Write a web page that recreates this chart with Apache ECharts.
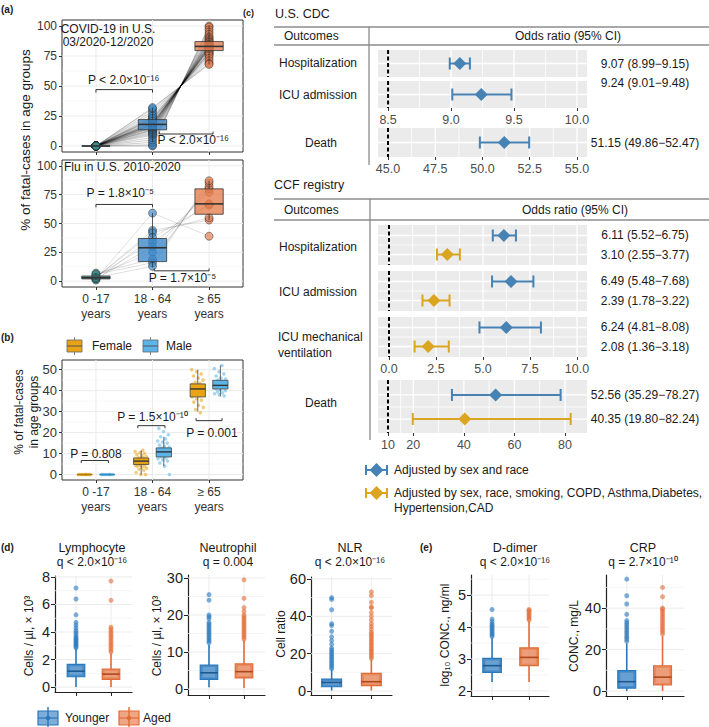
<!DOCTYPE html>
<html>
<head>
<meta charset="utf-8">
<script src="https://cdn.jsdelivr.net/npm/echarts@6/dist/echarts.min.js"></script>
<style>
  html, body { margin: 0; padding: 0; background: #fff; }
  #chart { width: 709px; height: 727px; }
</style>
</head>
<body>
<div id="chart"></div>
<script>
// ---------- data ----------
const ageGroups = ['0 -17\nyears', '18 - 64\nyears', '≥ 65\nyears'];
const pctTicks = [0, 25, 50, 75, 100];

// (a) COVID-19 in U.S. 03/2020-12/2020, share of fatal cases per state
const covidKids = [0, 0, 0, 0.1, 0, 0, 0.2, 0, 0, 0.1, 0, 0, 0, 0.1, 0, 0, 0, 0.2, 0, 0, 0, 0.1, 0, 0, 0, 0, 0.1, 0, 0, 0, 0.2, 0, 0, 0];
const covidAdult = [0, 1, 3, 5, 7, 9, 10, 11, 12, 13, 13.5, 14, 15, 15.5, 16, 16.5, 17, 17.5, 18, 18, 18.5, 19, 19.5, 20, 21, 22, 22.5, 23, 24, 25, 27, 29, 31, 32];
const covidSenior = [100, 99, 97, 95, 93, 91, 90, 89, 88, 87, 86.5, 86, 85, 84.5, 84, 83.5, 83, 82.5, 82, 82, 81.5, 81, 80.5, 80, 79, 78, 77.5, 77, 76, 75, 73, 71, 69, 68];
// box stats: lower whisker, Q1, median, Q3, upper whisker
const covidBox = [[0, 0, 0, 0, 0], [3, 13.5, 18, 22, 32], [68, 79.5, 83, 87, 100]];
const covidP = ['P < 2.0×10⁻¹⁶', 'P < 2.0×10⁻¹⁶'];

// (a) Flu in U.S. 2010-2020, one value per season
const fluKids = [2, 3, 3, 1, 4, 2, 5, 7, 6, 3];
const fluAdult = [59, 44, 42, 38, 34, 30, 25, 19, 16, 13];
const fluSenior = [39, 53, 55, 66, 67, 77, 80, 82, 85, 87];
const fluBox = [[1, 2, 3, 4.5, 7], [12, 17, 29, 37, 59], [53, 58, 67, 80, 87]];
const fluP = ['P = 1.8×10⁻⁵', 'P = 1.7×10⁻⁵'];

// (b) by sex
const sexGroups = ['Female', 'Male'];
const sexTicks = [0, 10, 20, 30, 40, 50];
const femaleBox = [[0, 0, 0, 0, 0], [0, 4.8, 6.4, 7.9, 11.5], [30, 37, 40.8, 43.2, 50]];
const maleBox = [[0, 0, 0, 0, 0], [4, 8.4, 10.8, 12.7, 18], [37.3, 40.8, 42.5, 44.9, 52]];
const femaleKidPts = [0, 0, 0, 0, 0, 0, 0, 0, 0, 0];
const maleKidPts = [0, 0, 0, 0, 0, 0, 0, 0, 0, 0];
const femaleAdultPts = [0, 0, 1, 2, 2.5, 3, 3.5, 4, 4, 4.5, 4.5, 5, 5, 5.5, 5.5, 6, 6, 6, 6.5, 6.5, 7, 7, 7.5, 7.5, 8, 8, 8.5, 9, 9.5, 10, 10.5, 11, 11.5];
const maleAdultPts = [0, 4, 5.5, 6.5, 7, 7.5, 8, 8.5, 9, 9, 9.5, 10, 10, 10.5, 10.5, 11, 11, 11.5, 12, 12, 12.5, 13, 13.5, 14, 15, 15.5, 16, 17, 18, 19, 20.5, 22];
const femaleSeniorPts = [29.5, 31, 32, 33, 34.5, 35.5, 36, 37, 37.5, 38, 38.5, 39, 39.5, 40, 40.5, 41, 41, 41.5, 42, 42.5, 43, 43.5, 44, 45, 46, 47, 48, 49, 50];
const maleSeniorPts = [37.5, 38, 38.5, 39, 39.5, 40, 40.5, 41, 41.5, 42, 42, 42.5, 43, 43, 43.5, 44, 44.5, 45, 45.5, 46, 47, 48, 49, 50.5, 52];
const sexP = ['P = 0.808', 'P = 1.5×10⁻¹⁰', 'P = 0.001'];

// (c) odds ratios
const cdcOutcomes = ['Hospitalization', 'ICU admission', 'Death'];
const cdcOR = [9.07, 9.24, 51.15];
const cdcLow = [8.99, 9.01, 49.86];
const cdcHigh = [9.15, 9.48, 52.47];
const cdcTicks = [8.5, 9.0, 9.5, 10.0];
const cdcDeathTicks = [45, 47.5, 50, 52.5, 55];
const ccfOutcomes = ['Hospitalization', 'ICU admission', 'ICU mechanical\nventilation', 'Death'];
const ccfModels = ['Adjusted by sex and race', 'Adjusted by sex, race, smoking, COPD, Asthma,Diabetes,\nHypertension,CAD'];
const sexRaceOR = [6.11, 6.49, 6.24, 52.56];
const sexRaceLow = [5.52, 5.48, 4.81, 35.29];
const sexRaceHigh = [6.75, 7.68, 8.08, 78.27];
const fullOR = [3.10, 2.39, 2.08, 40.35];
const fullLow = [2.55, 1.78, 1.36, 19.80];
const fullHigh = [3.77, 3.22, 3.18, 82.24];
const ccfTicks = [0, 2.5, 5, 7.5, 10];
const ccfDeathTicks = [10, 20, 40, 60, 80];
const cdcRef = [8.5, 45];
const ccfRef = [0, 10];

// (d) and (e) lab values, younger vs aged
const cohorts = ['Younger', 'Aged'];
const lymphTicks = [0, 2, 4, 6, 8];
const lymphBox = [[0, 0.75, 1.15, 1.65, 2.8], [0, 0.56, 0.94, 1.31, 2.45]];
const lymphOutYoung = [2.85, 2.95, 3.05, 3.15, 3.25, 3.35, 3.45, 3.55, 3.65, 3.8, 3.95, 4.1, 4.3, 4.5, 4.7, 5.25, 6.4, 7.2];
const lymphOutAged = [2.55, 2.7, 2.85, 3.0, 3.15, 3.3, 3.45, 3.6, 3.75, 3.9, 4.05, 4.2, 4.35, 6.3, 7.7];
const neutroTicks = [0, 10, 20, 30];
const neutroBox = [[0.5, 2.6, 4.4, 6.5, 12], [0.3, 3.0, 4.7, 6.8, 13.2]];
const neutroOutYoung = [12.5, 13, 13.5, 14, 14.5, 15, 15.5, 16, 16.5, 17, 17.5, 18, 19, 19.5, 20, 24, 25.5];
const neutroOutAged = [13.5, 14, 14.5, 15, 15.5, 16, 16.5, 17, 17.5, 18, 18.5, 19, 19.5, 20, 21, 22, 24.5, 29.5];
const nlrTicks = [0, 20, 40, 60];
const nlrBox = [[0.3, 2.3, 4.6, 6.4, 11.5], [0.3, 2.9, 5, 9.5, 17]];
const nlrOutYoung = [12, 13, 14, 15, 16, 17, 18, 19, 20, 21, 22, 23, 25, 27, 29, 32, 35, 36, 43.5, 49, 50];
const nlrOutAged = [17.5, 18.5, 19.5, 20.5, 21.5, 22.5, 23.5, 24.5, 25.5, 26.5, 27.5, 28.5, 29.5, 30.5, 31.5, 33, 34.5, 36, 38, 40, 42, 44.5, 45, 47.5, 51, 53];
const ddimerTicks = [2, 3, 4, 5];
const ddimerBox = [[2.28, 2.58, 2.79, 3.02, 3.66], [2.28, 2.79, 3.05, 3.35, 4.18]];
const ddimerOutYoung = [3.7, 3.75, 3.8, 3.85, 3.9, 3.95, 4.0, 4.05, 4.1, 4.17, 4.25, 4.55];
const ddimerOutAged = [4.22, 4.27, 4.32, 4.37, 4.42, 4.47, 4.52, 4.55];
const crpTicks = [0, 20, 40];
const crpBox = [[0, 1.4, 4.5, 9.8, 23], [0, 2.9, 6.7, 12.2, 26.5]];
const crpOutYoung = [24, 25, 26, 27, 28, 29, 30, 31, 32, 33, 34, 37, 42, 46, 54];
const crpOutAged = [27.5, 28.5, 29.5, 30.5, 31.5, 32.5, 33.5, 34.5, 35.5, 36.5, 37.5, 38.5, 39.5, 40, 45.5, 50];

// ---------- look ----------
const FONT = '"Liberation Sans", Arial, sans-serif';
const INK = '#1a1a1a';
const AGE_COL = ['61,140,140', '58,135,200', '229,124,76'];
const FEMALE = '#E8A317', MALE = '#5BB5E8';
const BLUE = '#4682B4', GOLD = '#DAA520';
const YOUNG = '40,120,190', AGED = '226,108,54';

const grid = [], xAxis = [], yAxis = [], series = [], graphic = [], ranges = [];

function addGrid(box, xr, yr, xa, ya, look) {
  const i = grid.length;
  const off = {axisLine: {show: false, onZero: false}, axisTick: {show: false}, axisLabel: {show: false}, splitLine: {show: false}};
  grid.push(Object.assign({left: box[0], top: box[1], width: box[2], height: box[3], show: false}, look || {}));
  xAxis.push(Object.assign({gridIndex: i, type: 'value', min: xr[0], max: xr[1]}, off, xa || {}));
  yAxis.push(Object.assign({gridIndex: i, type: 'value', min: yr[0], max: yr[1]}, off, ya || {}));
  ranges.push({x: xr, y: yr});
  return i;
}
function ticks(vals, color, len) {
  return {show: true, customValues: vals, length: len || 3, lineStyle: {color: color || '#333', width: 1}};
}
function labels(vals, fmt, size, color, margin) {
  return {show: true, customValues: vals, formatter: fmt, fontSize: size, color: color, margin: margin,
    fontFamily: FONT, lineHeight: size + 3};
}
function mids(t, lo, hi) {
  const out = [];
  for (let k = 0; k < t.length - 1; k++) out.push((t[k] + t[k + 1]) / 2);
  const a = t[0] - (t[1] - t[0]) / 2, b = t[t.length - 1] + (t[t.length - 1] - t[t.length - 2]) / 2;
  if (a >= lo) out.unshift(a);
  if (b <= hi) out.push(b);
  return out;
}
function gridLines(gi, xs, ys, color, width) {
  const r = ranges[gi];
  const xm = (r.x[0] + r.x[1]) / 2, ym = (r.y[0] + r.y[1]) / 2;
  const data = xs.map(v => [v, ym, 0]).concat(ys.map(v => [xm, v, 1]));
  series.push({type: 'custom', xAxisIndex: gi, yAxisIndex: gi, silent: true, z: 1, data: data,
    renderItem: function (params, api) {
      const cs = params.coordSys;
      const p = api.coord([api.value(0), api.value(1)]);
      const s = api.value(2) === 0
        ? {x1: p[0], y1: cs.y, x2: p[0], y2: cs.y + cs.height}
        : {x1: cs.x, y1: p[1], x2: cs.x + cs.width, y2: p[1]};
      return {type: 'line', shape: s, style: {stroke: color, lineWidth: width}};
    }});
}
function boxes(gi, items, width, look) {
  series.push({type: 'custom', xAxisIndex: gi, yAxisIndex: gi, silent: true, z: 4, data: items,
    renderItem: function (params, api) {
      const i = params.dataIndex, x = api.value(0);
      const pt = k => api.coord([x, api.value(k)]);
      const lo = pt(1), q1 = pt(2), md = pt(3), q3 = pt(4), hi = pt(5);
      const w = api.size([width, 0])[0], cx = lo[0];
      const stroke = look.stroke[i];
      const kids = [
        {type: 'line', shape: {x1: cx, y1: q1[1], x2: cx, y2: lo[1]}, style: {stroke: stroke, lineWidth: look.wlw || look.lw}},
        {type: 'line', shape: {x1: cx, y1: q3[1], x2: cx, y2: hi[1]}, style: {stroke: stroke, lineWidth: look.wlw || look.lw}},
        {type: 'rect', shape: {x: cx - w / 2, y: q3[1], width: w, height: Math.max(q1[1] - q3[1], 0.01)},
          style: {fill: look.fill[i], stroke: stroke, lineWidth: look.lw}}
      ];
      if (look.inner && q1[1] - q3[1] > 5) {
        kids.push({type: 'rect', shape: {x: cx - w / 2 + 2.5, y: q3[1] + 2, width: w - 5, height: q1[1] - q3[1] - 4},
          style: {fill: look.inner}});
      }
      kids.push({type: 'line', shape: {x1: cx - w / 2, y1: md[1], x2: cx + w / 2, y2: md[1]},
        style: {stroke: look.med[i], lineWidth: look.medLw}});
      return {type: 'group', children: kids};
    }});
}
function points(gi, data, size, color, border, z) {
  series.push({type: 'scatter', xAxisIndex: gi, yAxisIndex: gi, silent: true, z: z || 3, symbolSize: size, data: data,
    itemStyle: {color: color, borderColor: border || 'transparent', borderWidth: border ? 0.6 : 0}});
}
function trajectories(gi, kids, adult, senior, stroke) {
  series.push({type: 'custom', xAxisIndex: gi, yAxisIndex: gi, silent: true, z: 2,
    data: adult.map((v, i) => [kids[i], v, senior[i]]),
    renderItem: function (params, api) {
      const pts = [1, 2, 3].map((x, k) => api.coord([x, api.value(k)]));
      return {type: 'polyline', shape: {points: pts}, style: {stroke: stroke, lineWidth: 0.8, fill: 'none'}};
    }});
}
function textStyle(text, size, color, align) {
  return {text: text, fill: color || INK, fontSize: size, fontFamily: FONT, textAlign: align || 'center', align: align || 'center',
    textVerticalAlign: 'middle', verticalAlign: 'middle'};
}
function brackets(gi, specs, texts) {
  // spec: x1, x2, y, tip, text x, text y
  series.push({type: 'custom', xAxisIndex: gi, yAxisIndex: gi, silent: true, z: 6, data: specs,
    renderItem: function (params, api) {
      const s = specs[params.dataIndex];
      const a = api.coord([s[0], s[2]]), b = api.coord([s[1], s[2]]);
      const a2 = api.coord([s[0], s[2] + s[3]]), b2 = api.coord([s[1], s[2] + s[3]]);
      const t = api.coord([s[4], s[5]]);
      return {type: 'group', children: [
        {type: 'polyline', shape: {points: [a2, a, b, b2]}, style: {stroke: '#333', lineWidth: 1, fill: 'none'}},
        {type: 'text', x: t[0], y: t[1], style: textStyle(texts[params.dataIndex], 12, INK)}
      ]};
    }});
}
function forest(gi, rows, labelDy) {
  // row: OR, low, high, y level, colour
  series.push({type: 'custom', xAxisIndex: gi, yAxisIndex: gi, silent: true, z: 5,
    data: rows.map(r => [r[0], r[3], r[1], r[2]]),
    renderItem: function (params, api) {
      const i = params.dataIndex, c = rows[i][4];
      const p = api.coord([api.value(0), api.value(1)]);
      const a = api.coord([api.value(2), api.value(1)]), b = api.coord([api.value(3), api.value(1)]);
      const h = 6, d = 6.5;
      const txt = rows[i][0].toFixed(2) + ' (' + rows[i][1].toFixed(2) + '−' + rows[i][2].toFixed(2) + ')';
      return {type: 'group', children: [
        {type: 'line', shape: {x1: a[0], y1: p[1], x2: b[0], y2: p[1]}, style: {stroke: c, lineWidth: 2}},
        {type: 'line', shape: {x1: a[0], y1: p[1] - h, x2: a[0], y2: p[1] + h}, style: {stroke: c, lineWidth: 2}},
        {type: 'line', shape: {x1: b[0], y1: p[1] - h, x2: b[0], y2: p[1] + h}, style: {stroke: c, lineWidth: 2}},
        {type: 'polygon', shape: {points: [[p[0] - d, p[1]], [p[0], p[1] - d], [p[0] + d, p[1]], [p[0], p[1] + d]]}, style: {fill: c}},
        {type: 'text', x: 645, y: p[1] + (labelDy ? labelDy[i] || 0 : 0), style: textStyle(txt, 12, INK)}
      ]};
    }});
}
function refLine(gi, x) {
  const r = ranges[gi];
  series.push({type: 'custom', xAxisIndex: gi, yAxisIndex: gi, silent: true, z: 4, data: [[x, (r.y[0] + r.y[1]) / 2]],
    renderItem: function (params, api) {
      const cs = params.coordSys, px = api.coord([api.value(0), api.value(1)])[0];
      return {type: 'line', shape: {x1: px, y1: cs.y, x2: px, y2: cs.y + cs.height},
        style: {stroke: '#000', lineWidth: 2, lineDash: [4, 2.5]}};
    }});
}
function text(x, y, t, o) {
  o = o || {};
  const st = textStyle(t, o.size || 12, o.color || INK, o.align || 'left');
  st.fontWeight = o.bold ? 'bold' : 'normal';
  st.lineHeight = o.lh || (o.size || 12) + 3;
  graphic.push({type: 'text', x: x, y: y, rotation: o.rot || 0, silent: true, z: 20, style: st});
}
function seg(x1, y1, x2, y2, color, w) {
  graphic.push({type: 'line', silent: true, z: 20, shape: {x1: x1, y1: y1, x2: x2, y2: y2}, style: {stroke: color, lineWidth: w}});
}
function rgba(c, a) { return 'rgba(' + c + ',' + a + ')'; }

// ---------- (a) ----------
const bwLook = {show: true, backgroundColor: '#fff', borderColor: '#333', borderWidth: 1};
const ageFmt = v => ageGroups[Math.round(v) - 1];
function bwY(t) {
  return {axisTick: ticks(t, '#333', 3), axisLabel: labels(t, v => String(v), 12, '#333', 5)};
}
const gCovid = addGrid([62, 20, 181, 132], [0.4, 3.6], [-5, 105], {axisTick: ticks([1, 2, 3], '#333', 3)}, bwY(pctTicks), bwLook);
const gFlu = addGrid([62, 160, 181, 127], [0.4, 3.6], [-5, 105],
  {axisTick: ticks([1, 2, 3], '#333', 3), axisLabel: labels([1, 2, 3], ageFmt, 12, '#333', 4)}, bwY(pctTicks), bwLook);

[gCovid, gFlu].forEach(g => {
  gridLines(g, [1, 2, 3], pctTicks, '#EBEBEB', 1);
  gridLines(g, [], mids(pctTicks, -5, 105), '#F2F2F2', 0.6);
});
const ageBoxLook = {
  stroke: ['#333', '#333', '#333'], med: ['#333', '#333', '#333'], lw: 0.8, medLw: 1.6,
  fill: AGE_COL.map(c => rgba(c, 0.78))
};
trajectories(gCovid, covidKids, covidAdult, covidSenior, 'rgba(0,0,0,0.24)');
[covidKids, covidAdult, covidSenior].forEach((vals, k) => points(gCovid, vals.map(v => [k + 1, v]), 8, rgba(AGE_COL[k], 0.85), '#222'));
boxes(gCovid, covidBox.map((b, k) => [k + 1].concat(b)), 0.5, Object.assign({}, ageBoxLook, {stroke: ['#2f6f70', '#333', '#333']}));
brackets(gCovid, [[1, 2, 47, -2.5, 1.49, 55], [2.12, 3.07, 10, 2, 2.72, 5]], covidP);

trajectories(gFlu, fluKids, fluAdult, fluSenior, 'rgba(0,0,0,0.16)');
[fluKids, fluAdult, fluSenior].forEach((vals, k) => points(gFlu, vals.map(v => [k + 1, v]), 8, rgba(AGE_COL[k], 0.85), '#222'));
boxes(gFlu, fluBox.map((b, k) => [k + 1].concat(b)), 0.5, ageBoxLook);
brackets(gFlu, [[1, 2, 66.5, -2.5, 1.43, 76], [2.03, 3.0, 9, 2, 2.53, 3]], fluP);

text(1, 9, '(a)', {size: 10, bold: true});
text(108, 29, 'COVID-19 in U.S.', {align: 'center'});
text(108, 42, '03/2020-12/2020', {align: 'center'});
text(64, 167, 'Flu in U.S. 2010-2020');
text(25, 140, '% of fatal-cases in age groups', {size: 13.5, rot: Math.PI / 2, align: 'center'});

// ---------- (b) ----------
const gSex = addGrid([62, 360, 181, 120], [0.4, 3.6], [-2.6, 54.6],
  {axisTick: ticks([1, 2, 3], '#333', 3), axisLabel: labels([1, 2, 3], ageFmt, 12, '#333', 4)},
  {axisTick: ticks(sexTicks, '#333', 3), axisLabel: labels(sexTicks, v => String(v), 13, '#333', 5)}, bwLook);
gridLines(gSex, [1, 2, 3], sexTicks, '#EBEBEB', 1);
gridLines(gSex, [], mids(sexTicks, -2.6, 54.6), '#F2F2F2', 0.6);
// spread points sideways around their box (golden-ratio sequence, fixed width)
const jit = i => ((i * 0.618034) % 1 - 0.5) * 0.22;
[[femaleKidPts, femaleAdultPts, femaleSeniorPts], [maleKidPts, maleAdultPts, maleSeniorPts]].forEach((sets, s) => {
  const dodge = s === 0 ? -0.2 : 0.2;
  const col = s === 0 ? 'rgba(232,163,23,0.7)' : 'rgba(91,181,232,0.7)';
  sets.forEach((vals, k) => points(gSex, vals.map((v, i) => [k + 1 + dodge + jit(i + s * 5 + k * 3), v]), 3.6, col));
});
boxes(gSex, femaleBox.map((b, k) => [k + 0.8].concat(b)), 0.27,
  {stroke: ['#B07A00', '#444', '#444'], med: ['#B07A00', '#333', '#333'], fill: [FEMALE, FEMALE, FEMALE], lw: 0.8, medLw: 1.4});
boxes(gSex, maleBox.map((b, k) => [k + 1.2].concat(b)), 0.27,
  {stroke: ['#2F8AC0', '#444', '#444'], med: ['#2F8AC0', '#333', '#333'], fill: [MALE, MALE, MALE], lw: 0.8, medLw: 1.4});
brackets(gSex, [[0.74, 1.22, 6.7, -1.2, 1.0, 10], [1.74, 2.22, 23.3, -1.2, 2.0, 27.6], [2.77, 3.23, 25.7, 1.2, 3.05, 20]], sexP);

text(1, 337, '(b)', {size: 10, bold: true});
text(26, 412, '% of fatal-cases\nin age groups', {size: 12, rot: Math.PI / 2, align: 'center', lh: 15});
[[67, FEMALE, 92], [143, MALE, 166]].forEach((k, s) => {
  seg(k[0] + 7.5, 337, k[0] + 7.5, 355, '#666', 0.8);
  graphic.push({type: 'rect', silent: true, z: 20, shape: {x: k[0], y: 340, width: 15, height: 12}, style: {fill: k[1], stroke: '#666', lineWidth: 0.8}});
  seg(k[0], 346, k[0] + 15, 346, '#555', 1);
  text(k[2], 346, sexGroups[s], {size: 12});
});

// ---------- (c) ----------
const forestLook = {show: true, backgroundColor: '#EBEBEB', borderWidth: 0};
function forestX(t, fmt, withLabels) {
  const o = {axisTick: ticks(t, '#333', 3)};
  if (!withLabels) o.axisTick.show = false;
  if (withLabels) o.axisLabel = labels(t, fmt, 12.5, '#4D4D4D', 4);
  return o;
}
const f1 = v => v.toFixed(1);
const facets = [
  {box: [378, 50, 209, 27], xr: [8.42, 10.08], yr: [0.5, 1.5], t: cdcTicks, fmt: f1, lab: false},
  {box: [378, 81, 209, 27], xr: [8.42, 10.08], yr: [0.5, 1.5], t: cdcTicks, fmt: f1, lab: true},
  {box: [378, 128, 209, 29], xr: [44.47, 55.53], yr: [0.5, 1.5], t: cdcDeathTicks, fmt: f1, lab: true},
  {box: [378, 225, 209, 40], xr: [-0.585, 10.53], yr: [0.45, 2.55], t: ccfTicks, fmt: f1, lab: false},
  {box: [378, 271, 209, 40], xr: [-0.585, 10.53], yr: [0.45, 2.55], t: ccfTicks, fmt: f1, lab: false},
  {box: [378, 317, 209, 40], xr: [-0.585, 10.53], yr: [0.45, 2.55], t: ccfTicks, fmt: f1, lab: true},
  {box: [378, 380, 209, 53], xr: [6.05, 88.7], yr: [0.42, 2.62], t: ccfDeathTicks, fmt: v => String(v), lab: true}
];
const fg = facets.map(f => {
  const g = addGrid(f.box, f.xr, f.yr, forestX(f.t, f.fmt, f.lab), {}, forestLook);
  const rows = f.yr[1] > 2 ? [1, 2] : [1];
  gridLines(g, f.t, rows, '#fff', 1.3);
  gridLines(g, mids(f.t, f.xr[0], f.xr[1]), rows.length > 1 ? [1.5] : [], '#fff', 0.8);
  return g;
});
[0, 1, 2].forEach(k => {
  refLine(fg[k], k < 2 ? cdcRef[0] : cdcRef[1]);
  forest(fg[k], [[cdcOR[k], cdcLow[k], cdcHigh[k], 1, BLUE]], k === 1 ? [-11.5] : null);
});
[0, 1, 2, 3].forEach(k => {
  refLine(fg[k + 3], k < 3 ? ccfRef[0] : ccfRef[1]);
  forest(fg[k + 3], [[sexRaceOR[k], sexRaceLow[k], sexRaceHigh[k], 2, BLUE], [fullOR[k], fullLow[k], fullHigh[k], 1, GOLD]]);
});

text(243, 13, '(c)', {size: 9, bold: true});
text(275, 14, 'U.S. CDC', {size: 12.5});
text(274, 185, 'CCF registry', {size: 12.5});
[[27, 45, 165, 369], [199, 220, 440, 370]].forEach(h => {
  seg(274, h[0], 709, h[0], '#8C8C8C', 1.3);
  seg(274, h[1], 709, h[1], '#8C8C8C', 1.3);
  seg(h[3], h[0], h[3], h[2], '#8C8C8C', 1.3);
  text(284, (h[0] + h[1]) / 2, 'Outcomes');
  text(h[3] === 369 ? 568 : 575, (h[0] + h[1]) / 2, 'Odds ratio (95% CI)', {align: 'center'});
});
[63, 95, 143].forEach((y, k) => text(k === 2 ? 321 : 318, y, cdcOutcomes[k], {align: 'center'}));
[247, 292, 345, 403].forEach((y, k) => {
  if (k === 2) text(278, y, ccfOutcomes[k], {lh: 16});
  else text(k === 3 ? 321 : 318, y, ccfOutcomes[k], {align: 'center'});
});
[[470, BLUE], [493, GOLD]].forEach((l, k) => {
  seg(366, l[0], 387, l[0], l[1], 2);
  seg(366, l[0] - 5, 366, l[0] + 5, l[1], 2);
  seg(387, l[0] - 5, 387, l[0] + 5, l[1], 2);
  graphic.push({type: 'polygon', silent: true, z: 20,
    shape: {points: [[369.5, l[0]], [376.5, l[0] - 7], [383.5, l[0]], [376.5, l[0] + 7]]}, style: {fill: l[1]}});
  text(394, k === 0 ? l[0] : l[0] + 7.5, ccfModels[k], {lh: 15});
});

// ---------- (d) and (e) ----------
const classicX = {axisLine: {show: true, onZero: false, lineStyle: {color: '#222', width: 1.2}}, axisTick: ticks([1, 2], '#222', 4)};
function classicY(t) {
  return {axisLine: {show: true, onZero: false, lineStyle: {color: '#222', width: 1.2}},
    axisTick: ticks(t, '#222', 4), axisLabel: labels(t, v => String(v), 14.5, '#222', 5)};
}
const labPanels = [
  {box: [55, 576, 77, 116], xr: [0.4, 2.6], yr: [-0.36, 8.07], t: lymphTicks, b: lymphBox, o: [lymphOutYoung, lymphOutAged]},
  {box: [188, 575, 77, 120], xr: [0.4, 2.6], yr: [-1.6, 30.8], t: neutroTicks, b: neutroBox, o: [neutroOutYoung, neutroOutAged]},
  {box: [311, 577, 81, 118], xr: [0.48, 2.52], yr: [-2.1, 61], t: nlrTicks, b: nlrBox, o: [nlrOutYoung, nlrOutAged]},
  {box: [471, 575, 78, 121], xr: [0.43, 2.54], yr: [1.84, 5.63], t: ddimerTicks, b: ddimerBox, o: [ddimerOutYoung, ddimerOutAged]},
  {box: [606, 575, 78, 121], xr: [0.42, 2.6], yr: [-2.4, 56], t: crpTicks, b: crpBox, o: [crpOutYoung, crpOutAged]}
];
labPanels.forEach(p => {
  const g = addGrid(p.box, p.xr, p.yr, classicX, classicY(p.t));
  gridLines(g, [1, 2], p.t, '#EBEBEB', 1);
  gridLines(g, [], mids(p.t, p.yr[0], p.yr[1]), '#F0F0F0', 0.7);
  [YOUNG, AGED].forEach((c, k) => points(g, p.o[k].map(v => [k + 1, v]), 5, rgba(c, 0.75), null, 3));
  boxes(g, p.b.map((b, k) => [k + 1].concat(b)), 0.5, {
    stroke: [rgba(YOUNG, 1), rgba(AGED, 1)], med: ['#1d5a92', '#b0481c'],
    fill: [rgba(YOUNG, 0.85), rgba(AGED, 0.8)], inner: 'rgba(255,255,255,0.18)', lw: 1.2, wlw: 1.6, medLw: 1.6
  });
});

text(1, 547, '(d)', {size: 10, bold: true});
text(420, 547, '(e)', {size: 10, bold: true});
[['Lymphocyte', 'q < 2.0×10⁻¹⁶', 92], ['Neutrophil', 'q = 0.004', 228], ['NLR', 'q < 2.0×10⁻¹⁶', 350],
 ['D-dimer', 'q < 2.0×10⁻¹⁶', 515], ['CRP', 'q = 2.7×10⁻¹⁰', 643]].forEach(t => {
  text(t[2], 548, t[0], {align: 'center', size: 12.5});
  text(t[2], 562, t[1], {align: 'center', size: 12});
});
[[29, 636, 'Cells / µl, × 10³'], [157, 636, 'Cells / µl, × 10³'], [281, 634, 'Cell ratio'],
 [445, 635, 'log₁₀ CONC., ng/ml'], [574, 636, 'CONC., mg/L']].forEach(t => text(t[0], t[1], t[2], {rot: Math.PI / 2, align: 'center'}));
[[38, YOUNG, 65], [119, AGED, 143]].forEach((k, s) => {
  seg(k[0] + 10, 707, k[0] + 10, 729, rgba(k[1], 1), 1.4);
  graphic.push({type: 'rect', silent: true, z: 20, shape: {x: k[0], y: 711, width: 20, height: 14},
    style: {fill: rgba(k[1], 0.6), stroke: rgba(k[1], 1), lineWidth: 1.2}});
  seg(k[0], 718, k[0] + 20, 718, rgba(k[1], 1), 1.2);
  graphic.push({type: 'circle', silent: true, z: 21, shape: {cx: k[0] + 10, cy: 718, r: 2.2}, style: {fill: rgba(k[1], 1)}});
  text(k[2], 718, cohorts[s], {size: 12});
});

const chart = echarts.init(document.getElementById('chart'), null, {renderer: 'svg'});
chart.setOption({
  animation: false,
  textStyle: {fontFamily: FONT},
  grid: grid,
  xAxis: xAxis,
  yAxis: yAxis,
  series: series,
  graphic: {elements: graphic}
});
</script>
</body>
</html>
